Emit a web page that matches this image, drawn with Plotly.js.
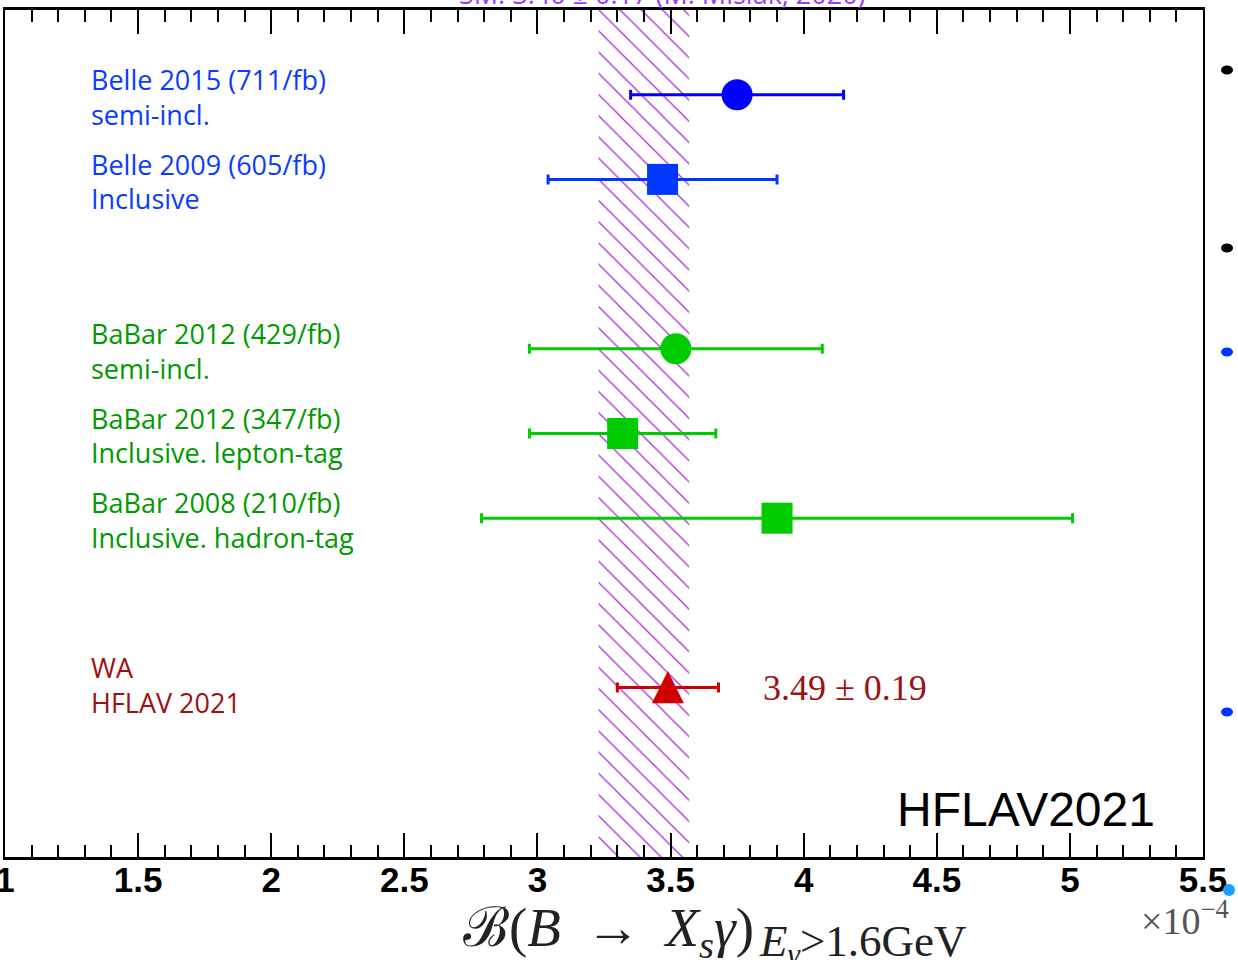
<!DOCTYPE html>
<html>
<head>
<meta charset="utf-8">
<script src="https://cdn.plot.ly/plotly-3.0.1.min.js"></script>
<style>html,body{margin:0;padding:0;background:#fff;}#chart{width:1238px;height:960px;}</style>
</head>
<body>
<div id="chart"></div>
<script>
// ---- data ----
const labelLine1 = ['Belle 2015 (711/fb)', 'Belle 2009 (605/fb)', 'BaBar 2012 (429/fb)', 'BaBar 2012 (347/fb)', 'BaBar 2008 (210/fb)', 'WA'];
const labelLine2 = ['semi-incl.', 'Inclusive', 'semi-incl.', 'Inclusive. lepton-tag', 'Inclusive. hadron-tag', 'HFLAV 2021'];
const values = [3.75, 3.47, 3.52, 3.32, 3.90, 3.49];
const errors = [0.40, 0.43, 0.55, 0.35, 1.11, 0.19];
const rows = [9, 8, 6, 5, 4, 2];
const symbols = ['circle', 'square', 'circle', 'square', 'square', 'triangle-up'];
const markerColors = ['#0000ff', '#0038ff', '#00cc00', '#00cc00', '#00cc00', '#d00000'];
const textColors = ['#0a3cff', '#0a3cff', '#009a00', '#009a00', '#009a00', '#a01010'];
const smValue = 3.40;
const smError = 0.17;
const smRef = 'M. Misiak, 2020';
const xTickVals = [1, 1.5, 2, 2.5, 3, 3.5, 4, 4.5, 5, 5.5];
const xTickText = ['1', '1.5', '2', '2.5', '3', '3.5', '4', '4.5', '5', '5.5'];

// ---- traces ----
const traces = [];
// SM hatched band
traces.push({
  type: 'scatter', mode: 'lines',
  x: [smValue - smError, smValue + smError, smValue + smError, smValue - smError, smValue - smError],
  y: [0, 0, 10, 10, 0],
  fill: 'toself',
  fillcolor: 'rgba(0,0,0,0)',
  fillpattern: {shape: '\\', fgcolor: '#a622e0', bgcolor: 'rgba(255,255,255,0)', size: 15, solidity: 0.08},
  line: {width: 0, color: 'rgba(0,0,0,0)'},
  hoverinfo: 'skip'
});
for (let i = 0; i < values.length; i++) {
  const isTri = symbols[i] === 'triangle-up';
  const tr = {
    type: 'scatter',
    x: [values[i]], y: [rows[i]],
    error_x: {type: 'data', array: [errors[i]], symmetric: true, color: markerColors[i], thickness: 3, width: 5},
    name: labelLine1[i]
  };
  if (isTri) {
    tr.mode = 'text';
    tr.text = ['▲'];
    tr.textposition = 'middle center';
    tr.textfont = {family: '"DejaVu Sans", sans-serif', size: 42, color: markerColors[i]};
  } else {
    tr.mode = 'markers';
    tr.marker = {symbol: symbols[i], size: 31, color: markerColors[i], line: {width: 0}};
  }
  traces.push(tr);
}

// ---- annotations ----
const ann = [];
const labelFont = '"Open Sans", "Noto Sans", sans-serif';
for (let i = 0; i < labelLine1.length; i++) {
  const up = rows[i] < 3 ? 0.04 : -0.02;
  ann.push({xref: 'paper', yref: 'y', x: 0.0705, y: rows[i] + 0.2 + up, xanchor: 'left', yanchor: 'middle',
    text: labelLine1[i], showarrow: false, font: {family: labelFont, size: 27, color: textColors[i]}});
  ann.push({xref: 'paper', yref: 'y', x: 0.0705, y: rows[i] - 0.21 + up, xanchor: 'left', yanchor: 'middle',
    text: labelLine2[i], showarrow: false, font: {family: labelFont, size: 27, color: textColors[i]}});
}
// WA value text
const wi = labelLine1.indexOf('WA');
ann.push({xref: 'x', yref: 'y', x: 3.84, y: rows[wi], xanchor: 'left', yanchor: 'middle',
  text: values[wi].toFixed(2) + ' ± ' + errors[wi].toFixed(2), showarrow: false,
  font: {family: '"Liberation Serif", "DejaVu Serif", serif', size: 36, color: '#9a1414'}});
// SM title (partly cut at top)
ann.push({xref: 'x', yref: 'paper', x: 3.47, y: 1, xanchor: 'center', yanchor: 'bottom', yshift: -4,
  text: 'SM: ' + smValue.toFixed(2) + ' ± ' + smError.toFixed(2) + ' (' + smRef + ')', showarrow: false,
  font: {family: labelFont, size: 27, color: '#9a3cff'}});
// HFLAV2021
ann.push({xref: 'paper', yref: 'paper', x: 0.962, y: 0.022, xanchor: 'right', yanchor: 'bottom',
  text: 'HFLAV2021', showarrow: false,
  font: {family: '"Liberation Sans", Arial, sans-serif', size: 48, color: '#000'}});
// axis title
ann.push({xref: 'paper', yref: 'paper', x: 0.627, y: -0.088, xanchor: 'right', yanchor: 'middle',
  text: 'ℬ(<i>B</i>\u2009 → \u2009<i>X</i><sub><i>s</i></sub><i>γ</i>)', showarrow: false,
  font: {family: '"Liberation Serif", "DejaVu Serif", serif', size: 55, color: '#222'}});
ann.push({xref: 'paper', yref: 'paper', x: 0.628, y: -0.103, xanchor: 'left', yanchor: 'middle',
  text: '<i>E</i><sub><i>γ</i></sub>>1.6GeV', showarrow: false,
  font: {family: '"Liberation Serif", "DejaVu Serif", serif', size: 45, color: '#222'}});
// exponent
ann.push({xref: 'paper', yref: 'paper', x: 1.0235, y: -0.072, xanchor: 'right', yanchor: 'middle',
  text: '×10<sup>−4</sup>', showarrow: false,
  font: {family: '"Liberation Serif", "DejaVu Serif", serif', size: 38, color: '#555'}});

// decorative cut-off legend dots on the right
function dot(px, py, rx, ry, c) {
  return {type: 'circle', xref: 'paper', yref: 'paper', layer: 'above',
    x0: (px - rx - 5) / 1198, x1: (px + rx - 5) / 1198,
    y0: (857 - py - ry) / 847, y1: (857 - py + ry) / 847,
    fillcolor: c, line: {width: 0}};
}
const shapes = [
  dot(1227, 70, 6, 4.5, '#000'),
  dot(1227, 248, 6, 4.5, '#000'),
  dot(1227, 352, 6, 4.5, '#0033ff'),
  dot(1227, 712, 6, 4.5, '#0033ff'),
  dot(1229, 890, 6, 6, '#1a9fff')
];

const layout = {
  width: 1238, height: 960,
  margin: {l: 5, r: 35, t: 10, b: 103},
  paper_bgcolor: '#fff', plot_bgcolor: '#fff',
  showlegend: false,
  xaxis: {
    range: [1, 5.5], tickvals: xTickVals, ticktext: xTickText,
    ticks: 'inside', ticklen: 24, tickwidth: 2, tickcolor: '#000',
    minor: {dtick: 0.1, tick0: 1, ticks: 'inside', ticklen: 12, tickwidth: 2, tickcolor: '#000', showgrid: false},
    showline: true, linewidth: 3, linecolor: '#000', mirror: 'ticks',
    showgrid: false, zeroline: false,
    ticklabeloverflow: 'allow',
    ticklabelstandoff: -10,
    tickfont: {family: '"Liberation Sans Narrow", "Liberation Sans", Arial, sans-serif', size: 35, color: '#000', weight: 'bold'}
  },
  yaxis: {
    range: [0, 10], showticklabels: false, ticks: '',
    showline: true, linewidth: 2, linecolor: '#000', mirror: true,
    showgrid: false, zeroline: false
  },
  annotations: ann,
  shapes: shapes
};

Plotly.newPlot('chart', traces, layout, {displayModeBar: false, staticPlot: true});
</script>
</body>
</html>
